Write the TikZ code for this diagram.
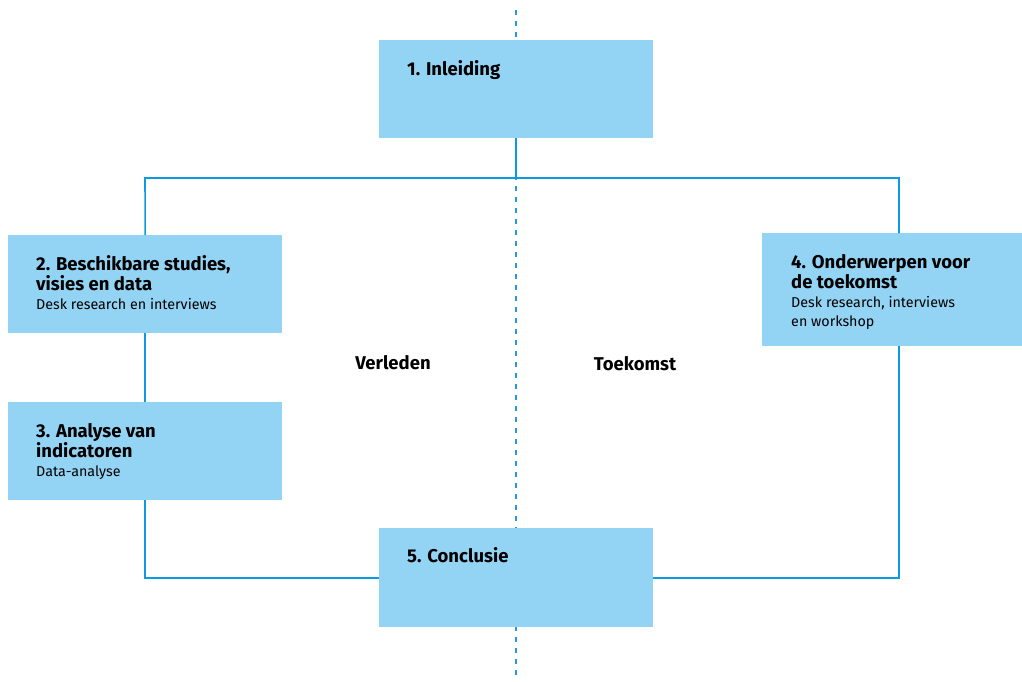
\documentclass[tikz,border=0pt]{standalone}
\usepackage{fontspec}
\setmainfont{Fira Sans}
\usetikzlibrary{calc}
\definecolor{boxfill}{RGB}{147,211,244}
\definecolor{linkblue}{RGB}{10,155,225}
\definecolor{axisblue}{RGB}{40,155,220}
\tikzset{
  x=1pt, y=-1pt,
  stepbox/.style={fill=boxfill, draw=none, inner sep=0pt, minimum width=#1},
  link/.style={draw=linkblue, line width=1.6pt},
  axis/.style={draw=axisblue, line width=1.6pt, dash pattern=on 5pt off 6pt},
  title/.style={anchor=base west, inner sep=0pt, font=\fontsize{18.5}{20}\selectfont\bfseries, align=left},
  sub/.style={anchor=base west, inner sep=0pt, font=\fontsize{14.3}{19}\selectfont, align=left},
  side/.style={anchor=base, inner sep=0pt, font=\fontsize{18.5}{20}\selectfont\bfseries}
}
\begin{document}
\begin{tikzpicture}
\useasboundingbox (0,0) rectangle (1022,681);
% time axis between past and future
\coordinate (axtop) at (516,10);
\coordinate (axbot) at (516,677);
\draw[axis] (axtop) -- (axbot);

% frame corners
\coordinate (cl) at (145,178);
\coordinate (cr) at (899,178);

% boxes
\node[stepbox=274pt, minimum height=98pt, anchor=north west] (b1) at (379,40) {};
\node[stepbox=274pt, minimum height=98pt, anchor=north west] (b2) at (8,235) {};
\node[stepbox=274pt, minimum height=98pt, anchor=north west] (b3) at (8,402) {};
\node[stepbox=260pt, minimum height=113pt, anchor=north west] (b4) at (762,233) {};
\node[stepbox=274pt, minimum height=99pt, anchor=north west] (b5) at (379,528) {};

% connectors
\draw[link] (b1.south) -- (b1.south |- cl);
\draw[link] (b2.north) -- (cl) -- (cr) -- (cr |- b4.north);
\draw[link] (b2.south) -- (b3.north);
\draw[link] (b3.south) |- (b5.west);
\draw[link] (cr |- b4.south) |- (b5.east);

% box texts (multi-line nodes sit on the baseline of their last line)
\node[title] (t1) at (407,75) {1. Inleiding};
\node[title] (t2) at (36,290) {2. Beschikbare studies,\\visies en data};
\node[sub] (s2) at (36,309) {Desk research en interviews};
\node[title] (t3) at (36,457) {3. Analyse van\\indicatoren};
\node[sub] (s3) at (36,476) {Data-analyse};
\node[title] (t4) at (791,288) {4. Onderwerpen voor\\de toekomst};
\node[sub] (s4) at (791,326) {Desk research, interviews\\en workshop};
\node[title] (t5) at (407,562) {5. Conclusie};

% side labels
\node[side] (past) at (393,369) {Verleden};
\node[side] (future) at (635,370) {Toekomst};
\end{tikzpicture}
\end{document}
